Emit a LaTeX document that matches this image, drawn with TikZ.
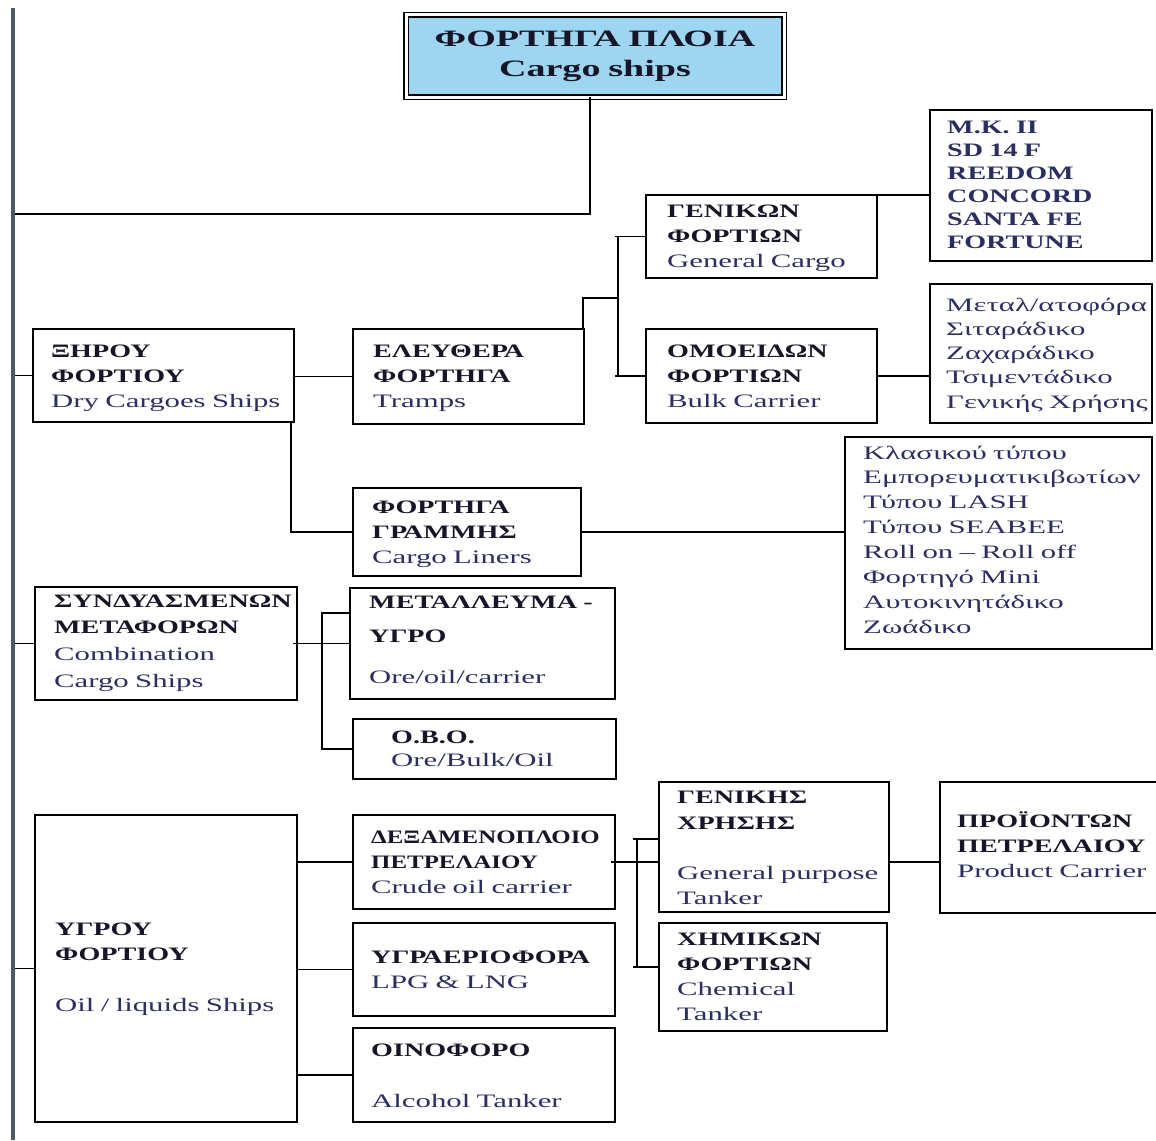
\documentclass[tikz,border=0pt]{standalone}
\usepackage{fontspec}
\setmainfont[FakeStretch=1.62]{Liberation Serif}
\newfontfamily\hdfont[FakeStretch=1.48]{Liberation Serif}
\newfontfamily\narrowfont[FakeStretch=1.31]{Liberation Serif}
\definecolor{barcol}{RGB}{74,90,104}
\definecolor{sky}{RGB}{158,214,242}
\definecolor{hdcol}{RGB}{22,22,40}
\definecolor{encol}{RGB}{42,46,96}
\newcommand{\hdr}[1]{{\hdfont\bfseries\color{hdcol}#1}}

\begin{document}
\begin{tikzpicture}[x=1pt,y=-1pt]
		\tikzstyle{box}=[draw, line width=1.8pt, anchor=north west, inner sep=0pt, outer sep=0pt]
		\tikzstyle{txt}=[anchor=base west, inner sep=0pt, align=left, text width=320pt, text=encol, font=\fontsize{19}{25}\selectfont]
		\tikzstyle{link}=[draw, line width=1.6pt]
		\useasboundingbox (0,0) rectangle (1156,1140);

		\node[box, double=white, double distance=3pt, line width=1.6pt, fill=sky, minimum width=378, minimum height=82] (cargo) at (406,15) {};
		\node[anchor=base, inner sep=0pt, align=center, text width=370pt, text=hdcol, font=\fontsize{23.5}{29}\selectfont\bfseries] (cargo-t) at (595,47) {ΦΟΡΤΗΓΑ ΠΛΟΙΑ\\Cargo ships};

		\node[box, minimum width=261, minimum height=93] (dry) at (33,329) {};
		\node[txt] (dry-t) at (51,357) {\hdr{ΞΗΡΟΥ}\\\hdr{ΦΟΡΤΙΟΥ}\\Dry Cargoes Ships};
		\node[box, minimum width=231, minimum height=95] (tramp) at (353,329) {};
		\node[txt] (tramp-t) at (373,357) {\hdr{ΕΛΕΥΘΕΡΑ}\\\hdr{ΦΟΡΤΗΓΑ}\\Tramps};
		\node[box, minimum width=228, minimum height=88] (liner) at (353,488) {};
		\node[txt] (liner-t) at (372,513) {\hdr{ΦΟΡΤΗΓΑ}\\\hdr{ΓΡΑΜΜΗΣ}\\Cargo Liners};
		\node[box, minimum width=231, minimum height=83] (gen) at (646,195) {};
		\node[txt] (gen-t) at (667,217) {\hdr{ΓΕΝΙΚΩΝ}\\\hdr{ΦΟΡΤΙΩΝ}\\General Cargo};
		\node[box, minimum width=231, minimum height=94] (bulk) at (646,329) {};
		\node[txt] (bulk-t) at (667,357) {\hdr{ΟΜΟΕΙΔΩΝ}\\\hdr{ΦΟΡΤΙΩΝ}\\Bulk Carrier};

		\node[box, minimum width=222, minimum height=151] (typesA) at (930,110) {};
		\node[txt, font=\fontsize{19}{23}\selectfont\hdfont\bfseries] (typesA-t) at (947,133) {M.K. II\\SD 14 F\\REEDOM\\CONCORD\\SANTA FE\\FORTUNE};
		\node[box, minimum width=222, minimum height=139] (typesB) at (930,284) {};
		\node[txt, font=\fontsize{19}{24.25}\selectfont] (typesB-t) at (946,311) {Μεταλ/ατοφόρα\\Σιταράδικο\\Ζαχαράδικο\\Τσιμεντάδικο\\Γενικής Χρήσης};
		\node[box, minimum width=307, minimum height=212] (typesC) at (845,437) {};
		\node[txt, font=\fontsize{19}{24.9}\selectfont] (typesC-t) at (863,459) {Κλασικού τύπου\\Εμπορευματικιβωτίων\\Τύπου LASH\\Τύπου SEABEE\\Roll on – Roll off\\Φορτηγό Mini\\Αυτοκινητάδικο\\Ζωάδικο};

		\node[box, minimum width=262, minimum height=113] (comb) at (35,587) {};
		\node[txt, font=\fontsize{19}{26.7}\selectfont] (comb-t) at (54,607) {\hdr{ΣΥΝΔΥΑΣΜΕΝΩΝ}\\\hdr{ΜΕΤΑΦΟΡΩΝ}\\Combination\\Cargo Ships};
		\node[box, minimum width=265, minimum height=111] (ore) at (350,588) {};
		\node[txt] (ore-t) at (369,608) {\hdr{ΜΕΤΑΛΛΕΥΜΑ -}\\[9pt]\hdr{ΥΓΡΟ}\\[16pt]Ore/oil/carrier};
		\node[box, minimum width=263, minimum height=60] (obo) at (353,719) {};
		\node[txt, font=\fontsize{19}{23}\selectfont] (obo-t) at (391,743) {\hdr{O.B.O.}\\Ore/Bulk/Oil};

		\node[box, minimum width=262, minimum height=307] (liq) at (35,815) {};
		\node[txt] (liq-t) at (55,935) {\hdr{ΥΓΡΟΥ}\\\hdr{ΦΟΡΤΙΟΥ}\\[26pt]Oil / liquids Ships};
		\node[box, minimum width=262, minimum height=94] (crude) at (353,815) {};
		\node[txt] (crude-t) at (371,843) {{\narrowfont\bfseries\color{hdcol}ΔΕΞΑΜΕΝΟΠΛΟΙΟ}\\{\narrowfont\bfseries\color{hdcol}ΠΕΤΡΕΛΑΙΟΥ}\\Crude oil carrier};
		\node[box, minimum width=262, minimum height=93] (lpg) at (353,923) {};
		\node[txt] (lpg-t) at (371,963) {\hdr{ΥΓΡΑΕΡΙΟΦΟΡΑ}\\LPG \& LNG};
		\node[box, minimum width=262, minimum height=94] (wine) at (353,1028) {};
		\node[txt] (wine-t) at (371,1056) {\hdr{ΟΙΝΟΦΟΡΟ}\\[26pt]Alcohol Tanker};
		\node[box, minimum width=230, minimum height=130] (tanker) at (659,782) {};
		\node[txt] (tanker-t) at (677,803) {\hdr{ΓΕΝΙΚΗΣ}\\[1pt]\hdr{ΧΡΗΣΗΣ}\\[25pt]General purpose\\Tanker};
		\node[box, minimum width=228, minimum height=108] (chem) at (659,923) {};
		\node[txt] (chem-t) at (677,945) {\hdr{ΧΗΜΙΚΩΝ}\\\hdr{ΦΟΡΤΙΩΝ}\\Chemical\\Tanker};
		\node[box, minimum width=218, minimum height=131] (prod) at (940,782) {};
		\node[txt] (prod-t) at (957,827) {\hdr{ΠΡΟΪΟΝΤΩΝ}\\\hdr{ΠΕΤΡΕΛΑΙΟΥ}\\Product Carrier};

		\coordinate (bartop) at (13,8);
		\coordinate (barbot) at (13,1140);
		\coordinate (topjoin) at (590,214);
		\draw[link] ([xshift=-5]cargo.south) -- (topjoin) -- (bartop |- topjoin);
		\draw[link] (dry.west) -- (bartop |- dry.west);
		\draw[link] (comb.west) -- (bartop |- comb.west);
		\draw[link] (liq.west) -- (bartop |- liq.west);

		\draw[link] (dry.east |- tramp.west) -- (tramp.west);
		\draw[link] ([xshift=-3]dry.south east) |- (liner.west);
		\coordinate (brA) at (618,298);
		\draw[link] ([xshift=-1]tramp.north east) |- (brA);
		\draw[link] (brA |- gen.west) ++(-3,0) -- (gen.west);
		\draw[link] (brA |- bulk.west) ++(-3,0) -- (bulk.west);
		\draw[link] (brA |- gen.west) -- (brA |- bulk.west);
		\draw[link] (gen.north east) -- (typesA.west |- gen.north east);
		\draw[link] (bulk.east) -- (typesB.west |- bulk.east);
		\draw[link] (liner.east) -- (typesC.west |- liner.east);

		\coordinate (brB) at (322,613);
		\draw[link] ([xshift=-4]comb.east) -- (ore.west);
		\draw[link] (brB -| ore.west) -- (brB) -- (brB |- obo.west) -- (obo.west);

		\draw[link] (liq.east |- crude.west) -- (crude.west);
		\draw[link] (liq.east |- lpg.west) -- (lpg.west);
		\draw[link] (liq.east |- wine.west) -- (wine.west);
		\coordinate (brC) at (637,839);
		\coordinate (brD) at (637,967);
		\draw[link] ([xshift=-4]crude.east) -- (tanker.west |- crude.east);
		\draw[link] (brC) ++(-4,0) -- (brC -| tanker.west);
		\draw[link] (brD) ++(-4,0) -- (brD -| chem.west);
		\draw[link] (brC) -- (brD);
		\draw[link] (tanker.east |- crude.east) -- (prod.west |- crude.east);

		\draw[draw=barcol, line width=4pt] (bartop) -- (barbot);
\end{tikzpicture}
\end{document}
